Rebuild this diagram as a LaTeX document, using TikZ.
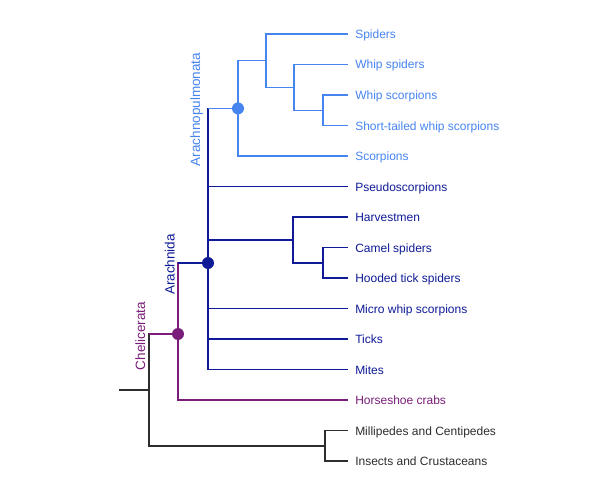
\documentclass[tikz,border=0pt]{standalone}
\usepackage{fontspec}
\setmainfont{Liberation Sans}
\usepackage{xcolor}
\usepackage{tikz}
\usetikzlibrary{calc}

\definecolor{pulmocol}{RGB}{70,132,240}
\definecolor{arachcol}{RGB}{14,26,150}
\definecolor{chelcol}{RGB}{122,28,122}
\definecolor{rootcol}{RGB}{45,45,45}

\tikzset{
  leaf/.style={anchor=west, inner xsep=6.5pt, inner ysep=0pt, text height=9pt, text depth=0pt,
    font=\fontsize{12}{14}\selectfont},
  clade/.style={rotate=90, anchor=base, inner sep=0pt, font=\fontsize{13.5}{16}\selectfont},
  branch/.style={line width=1.5pt}
}

\begin{document}
\begin{tikzpicture}[x=1pt, y=-1pt, branch]
\useasboundingbox (0,0) rectangle (592,487);
\foreach \n/\y/\c/\t in {spiders/34/pulmocol/Spiders, whipsp/64.5/pulmocol/Whip spiders,
  whipsc/95/pulmocol/Whip scorpions, shorttail/125.5/pulmocol/Short-tailed whip scorpions,
  scorp/156/pulmocol/Scorpions, pseudo/186.5/arachcol/Pseudoscorpions,
  harvest/217/arachcol/Harvestmen, camelsp/247.5/arachcol/Camel spiders,
  hooded/278/arachcol/Hooded tick spiders, micro/308.5/arachcol/Micro whip scorpions,
  ticks/339/arachcol/Ticks, mites/369.5/arachcol/Mites,
  horse/400/chelcol/Horseshoe crabs, milli/430.5/rootcol/Millipedes and Centipedes,
  insects/461/rootcol/Insects and Crustaceans}
\node[leaf, text=\c] (\n) at (348,\y) {\t};

\coordinate (wsc) at (323,110.25);
\coordinate (wsp) at (294,87.4);
\coordinate (spd) at (266,60.7);
\coordinate (pulmo) at (238,108.4);
\coordinate (camel) at (323,262.75);
\coordinate (harv) at (293,239.9);
\coordinate (arach) at (208,263);
\coordinate (chel) at (178,334);
\coordinate (myr) at (325,445.75);
\coordinate (root) at (149,389.9);
\coordinate (stem) at (119,389.9);

\draw[pulmocol] (wsc) |- (whipsc.west);
\draw[pulmocol] (wsc) |- (shorttail.west);
\draw[pulmocol] (wsp) |- (whipsp.west);
\draw[pulmocol] (wsp) |- (wsc);
\draw[pulmocol] (spd) |- (spiders.west);
\draw[pulmocol] (spd) |- (wsp);
\draw[pulmocol] (pulmo) |- (spd);
\draw[pulmocol] (pulmo) |- (scorp.west);

\draw[arachcol] (camel) |- (camelsp.west);
\draw[arachcol] (camel) |- (hooded.west);
\draw[arachcol] (harv) |- (harvest.west);
\draw[arachcol] (harv) |- (camel);
\foreach \c in {pulmo, harv}
\draw[arachcol] (arach) |- (\c);
\foreach \c in {pseudo, micro, ticks, mites}
\draw[arachcol] (arach) |- (\c.west);
\draw[pulmocol] (arach |- pulmo) -- (pulmo);

\draw[chelcol] (chel) |- (arach);
\draw[chelcol] (chel) |- (horse.west);
\draw[arachcol] (chel |- arach) -- (arach);

\draw[rootcol] (myr) |- (milli.west);
\draw[rootcol] (myr) |- (insects.west);
\draw[rootcol] (root) |- (chel);
\draw[rootcol] (root) |- (myr);
\draw[rootcol] (stem) -- (root);
\draw[chelcol] (root |- chel) -- (chel);

\fill[pulmocol] (pulmo) circle[radius=6pt];
\fill[arachcol] (arach) circle[radius=6pt];
\fill[chelcol] (chel) circle[radius=6pt];

\node[clade, text=pulmocol] (pulmolbl) at (200,109.5) {Arachnopulmonata};
\node[clade, text=arachcol] (arachlbl) at (174.5,264.5) {Arachnida};
\node[clade, text=chelcol] (chellbl) at (145,336) {Chelicerata};
\end{tikzpicture}
\end{document}
